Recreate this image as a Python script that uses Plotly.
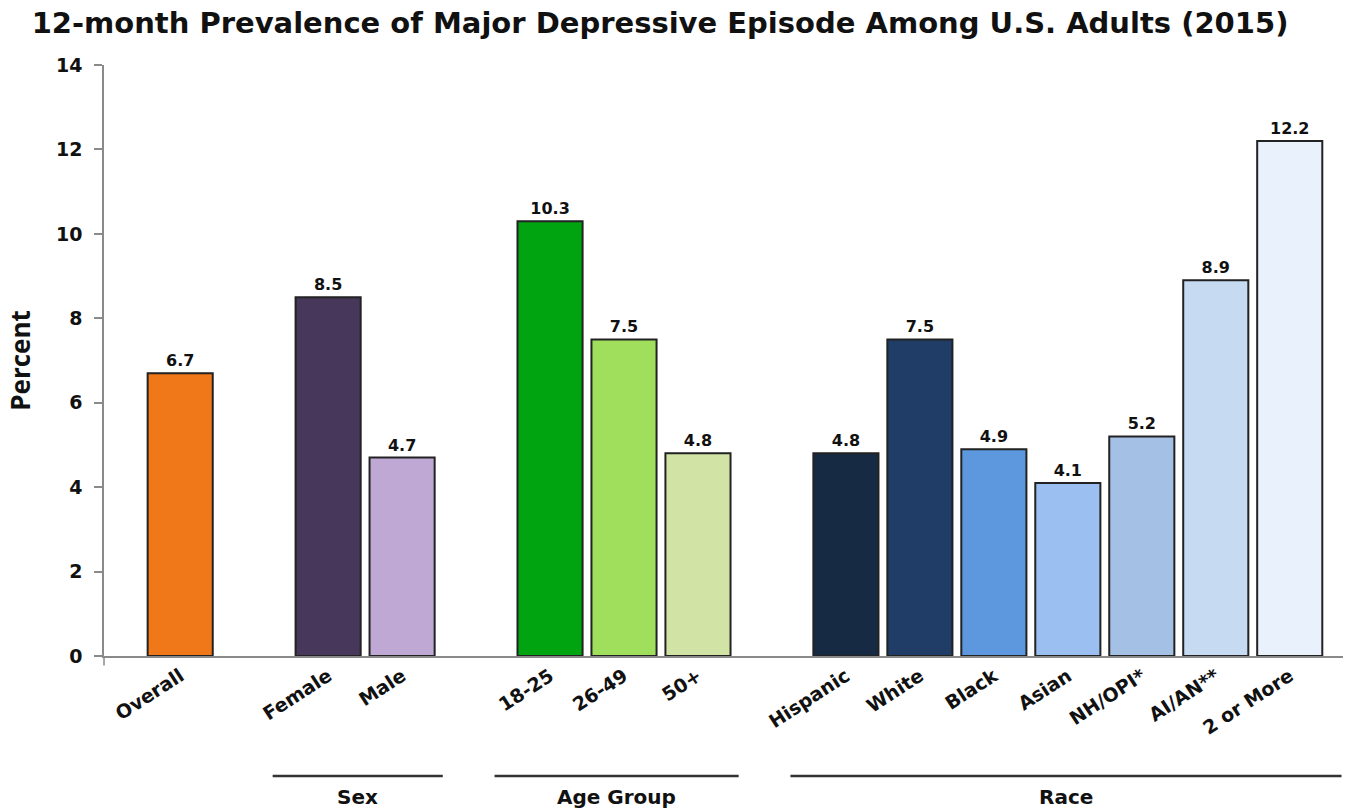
import plotly.graph_objects as go

title = "12-month Prevalence of Major Depressive Episode Among U.S. Adults (2015)"
categories = ["Overall", "Female", "Male", "18-25", "26-49", "50+",
              "Hispanic", "White", "Black", "Asian", "NH/OPI*", "AI/AN**", "2 or More"]
values = [6.7, 8.5, 4.7, 10.3, 7.5, 4.8, 4.8, 7.5, 4.9, 4.1, 5.2, 8.9, 12.2]
colors = ["#F07818", "#47375A", "#BFA8D4", "#00A310", "#9FDF5C", "#D1E4A6",
          "#172A44", "#1F3D66", "#5D97DE", "#9ABFF0", "#A4C0E4", "#C6DAF2", "#E9F2FC"]
group_names = ["", "Sex", "Age Group", "Race"]
group_sizes = [1, 2, 3, 7]
y_ticks = [0, 2, 4, 6, 8, 10, 12, 14]

# slot positions: one empty slot between groups
positions = []
group_spans = []
p = 0
for gi, n in enumerate(group_sizes):
    start = p
    for _ in range(n):
        positions.append(p)
        p += 1
    group_spans.append((start, p - 1))
    p += 1

x_min, x_max = -1.03, 15.72

fig = go.Figure()
fig.add_trace(go.Bar(
    x=positions, y=values, width=0.88,
    marker=dict(color=colors, line=dict(color="#222222", width=2)),
    text=[f"{v:.1f}" for v in values], textposition="outside",
    textfont=dict(family="DejaVu Sans", size=16, color="#111111", weight="bold"),
    cliponaxis=False, hoverinfo="x+y",
))

shapes = []
annotations = []
for name, (a, b) in zip(group_names, group_spans):
    if not name:
        continue
    x0 = a - 0.75
    x1 = min(b + 0.55, x_max - 0.02) if name != "Race" else x_max - 0.02
    shapes.append(dict(type="line", xref="x", yref="paper", x0=x0, x1=x1,
                       y0=-0.203, y1=-0.203, line=dict(color="#333333", width=2.5)))
    annotations.append(dict(text=f"<b>{name}</b>", xref="x", yref="paper",
                            x=(x0 + x1) / 2, y=-0.238, showarrow=False,
                            font=dict(family="DejaVu Sans", size=20, color="#111111"),
                            xanchor="center", yanchor="middle"))
# small extension of y-axis below zero
shapes.append(dict(type="line", xref="paper", yref="paper", x0=0, x1=0,
                   y0=0, y1=-0.016, line=dict(color="#8a8a8a", width=1.5)))

fig.update_layout(
    width=1348, height=809,
    margin=dict(l=104, r=5, t=65, b=153),
    paper_bgcolor="white", plot_bgcolor="white",
    title=dict(text=f"<b>{title}</b>", x=0.0235, xanchor="left", y=0.972, yanchor="middle",
               font=dict(family="DejaVu Sans", size=29, color="#111111")),
    showlegend=False,
    shapes=shapes, annotations=annotations,
    xaxis=dict(range=[x_min, x_max], tickvals=positions, ticktext=[f"<b>{c}</b>" for c in categories],
               tickangle=-33, tickfont=dict(family="DejaVu Sans", size=19, color="#111111"),
               showline=True, linecolor="#8a8a8a", linewidth=1.5, ticks="", showgrid=False,
               zeroline=False, fixedrange=True),
    yaxis=dict(range=[0, 14], tickvals=y_ticks, ticktext=[f"<b>{t}</b>" for t in y_ticks],
               tickfont=dict(family="DejaVu Sans", size=19, color="#111111"),
               showline=True, linecolor="#8a8a8a", linewidth=1.5, ticks="outside",
               ticklen=8, tickcolor="#8a8a8a", tickwidth=1.5, ticklabelstandoff=8,
               showgrid=False, zeroline=False,
               title=dict(text="<b>Percent</b>", font=dict(family="Open Sans", size=26, color="#111111"),
                          standoff=18)),
)

fig.write_html("out.html")
